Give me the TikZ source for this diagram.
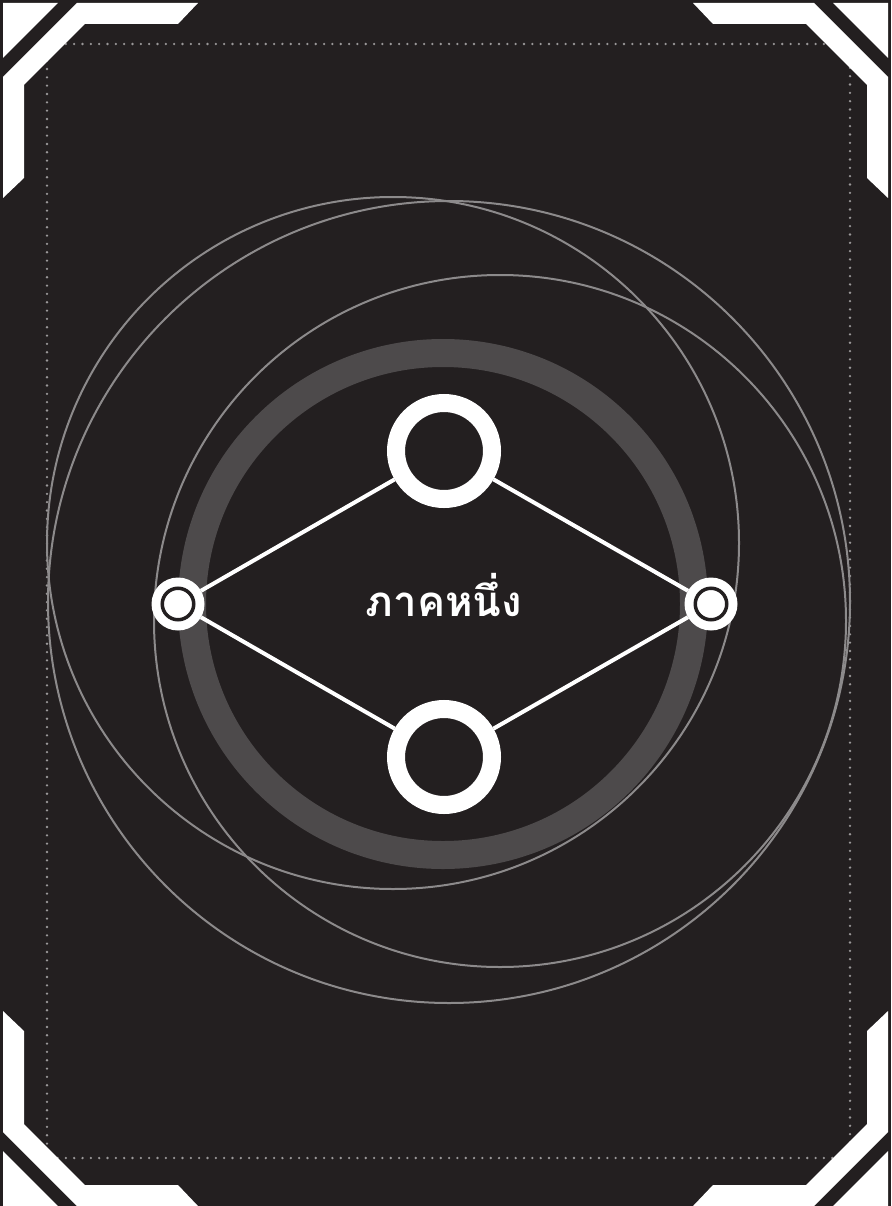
\documentclass[tikz,border=0pt]{standalone}
\usepackage{fontspec}
\newfontfamily\thaifont[Script=Thai]{Loma}
\definecolor{bgc}{HTML}{231F20}
\definecolor{thin}{HTML}{8C8A8B}
\definecolor{ringc}{HTML}{4D4A4B}
\definecolor{dotc}{HTML}{9A9899}
\tikzset{
  band/.style={fill=white, draw=none},
  orbit/.style={draw=thin, line width=2pt},
  bignode/.style={circle, draw=white, line width=18pt, fill=bgc, minimum size=96pt, inner sep=0pt},
  smallouter/.style={circle, fill=white, minimum size=53pt, inner sep=0pt, outer sep=0pt},
  smallinner/.style={circle, fill=white, draw=bgc, line width=3.5pt, minimum size=31.5pt, inner sep=0pt},
  link/.style={draw=white, line width=4pt},
}
\newcommand{\cornerpiece}{%
  \fill[white] (3,77) -- (77,3) -- (198,3) -- (178,24) -- (85,24) -- (24,85) -- (24,178) -- (3,198) -- cycle;
  \fill[white] (3,3) -- (58,3) -- (3,58) -- cycle;}
\begin{document}
\begin{tikzpicture}[x=1pt,y=-1pt]
\useasboundingbox (0,0) rectangle (891,1206);
\fill[bgc] (0,0) rectangle (891,1206);
% dotted frame
\draw[dotc, line width=2.6pt, line cap=round, dash pattern=on 0pt off 8.33pt] (47,44) rectangle (850,1158);
% corners
\cornerpiece
\begin{scope}[shift={(891,0)}, xscale=-1]\cornerpiece\end{scope}
\begin{scope}[shift={(0,1209)}, yscale=-1]\cornerpiece\end{scope}
\begin{scope}[shift={(891,1209)}, xscale=-1, yscale=-1]\cornerpiece\end{scope}
% thick ring
\draw[ringc, line width=28pt] (443,604) circle (251);
% orbits
\draw[orbit] (393,543) circle (346);
\draw[orbit] (449,602) circle (401);
\draw[orbit] (500,621) circle (346);
% nodes
\node[bignode] (T) at (444,451) {};
\node[bignode] (B) at (444,757) {};
\node[smallouter] (L) at (178,604) {};
\node[smallouter] (R) at (711,604) {};
\node[smallinner] (Li) at (L) {};
\node[smallinner] (Ri) at (R) {};
\draw[link] (L) -- (T);
\draw[link] (T) -- (R);
\draw[link] (L) -- (B);
\draw[link] (B) -- (R);
\node[text=white, font=\thaifont\bfseries\fontsize{42}{44}\selectfont] (C) at (444,595) {ภาคหนึ่ง};
\end{tikzpicture}
\end{document}
